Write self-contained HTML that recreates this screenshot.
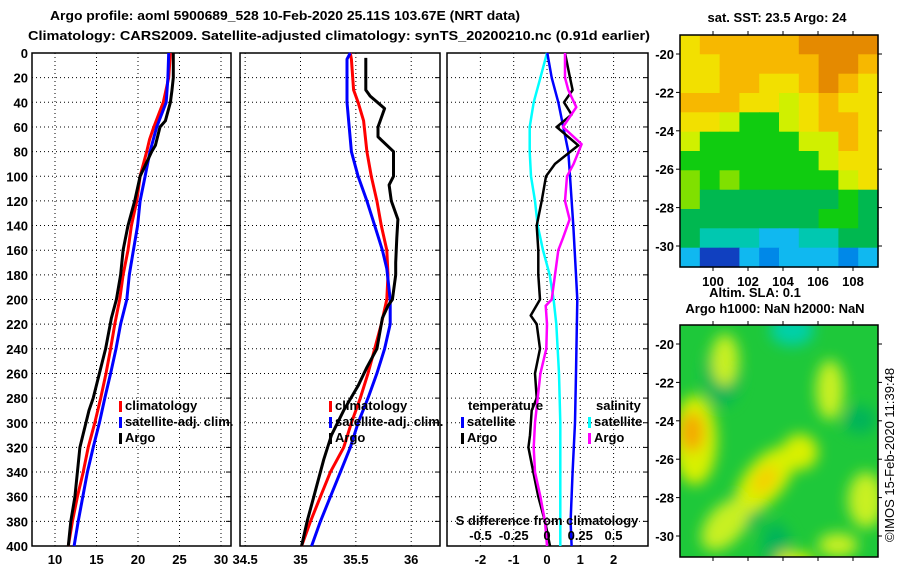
<!DOCTYPE html>
<html><head><meta charset="utf-8">
<style>
html,body{margin:0;padding:0;background:#fff;}
body{width:900px;height:580px;overflow:hidden;font-family:"Liberation Sans",sans-serif;}
svg text{font-family:"Liberation Sans",sans-serif;font-weight:bold;font-size:13px;fill:#000;}
</style></head>
<body>
<svg id="chart" width="900" height="580" viewBox="0 0 900 580" xmlns="http://www.w3.org/2000/svg">
<text x="50" y="20" font-size="15" textLength="470" lengthAdjust="spacingAndGlyphs">Argo profile: aoml 5900689_528 10-Feb-2020 25.11S 103.67E (NRT data)</text>
<text x="28" y="40" font-size="15" textLength="622" lengthAdjust="spacingAndGlyphs">Climatology: CARS2009. Satellite-adjusted climatology: synTS_20200210.nc (0.91d earlier)</text>
<g id="p1"></g>
<g id="p2"></g>
<g id="p3"></g>
<g id="m1"></g>
<g id="m2"></g>
<text x="777" y="22" text-anchor="middle">sat. SST: 23.5 Argo: 24</text>
<text x="755" y="297" text-anchor="middle">Altim. SLA: 0.1</text>
<text x="775" y="313" text-anchor="middle">Argo h1000: NaN h2000: NaN</text>
<text x="0" y="0" transform="translate(894,455) rotate(-90)" text-anchor="middle" style="font-weight:normal">©IMOS 15-Feb-2020 11:39:48</text>
</svg>
<script>
// ---- data ----
const depthTicks=[0,20,40,60,80,100,120,140,160,180,200,220,240,260,280,300,320,340,360,380,400];
const tTicks=[10,15,20,25,30];
const sTicks=[34.5,35,35.5,36];
const dTicks=[-2,-1,0,1,2];
const dsTickLabels=["-0.5","-0.25","0","0.25","0.5"];
const dsTickValues=[-0.5,-0.25,0,0.25,0.5];

const tArgoDepth=[0,20,30,40,55,60,75,80,100,120,140,160,180,200,215,240,260,280,290,320,340,360,380,400];
const tArgo=[24.25,24.25,24.1,23.9,23.3,22.65,22.1,21.65,20.25,19.6,18.8,18.2,17.9,17.4,16.8,16.1,15.35,14.6,14.1,13.0,12.7,12.4,11.9,11.6];
const tClimDepth=[0,20,40,60,70,80,100,120,140,160,180,200,220,240,260,280,300,320,340,360,380,400];
const tClim=[23.9,23.7,23.05,21.9,21.4,21.05,20.25,19.85,19.2,18.8,18.2,17.8,17.2,16.7,16.15,15.5,14.8,14.0,13.4,12.7,12.1,11.6];
const tSatDepth=[0,20,40,60,80,100,120,140,160,180,200,220,240,260,280,300,320,340,360,380,400];
const tSat=[23.7,23.6,23.4,22.25,21.45,20.85,20.25,19.95,19.45,18.95,18.65,17.9,17.35,16.7,16.0,15.35,14.6,13.9,13.35,12.8,12.3];

const sArgoDepth=[4,30,35,45,60,68,80,100,107,120,135,150,170,180,200,205,215,240,255,270,290,310,330,360,380,400];
const sArgo=[35.59,35.59,35.63,35.76,35.70,35.70,35.84,35.84,35.80,35.82,35.88,35.87,35.86,35.86,35.83,35.79,35.74,35.69,35.60,35.52,35.39,35.28,35.21,35.12,35.06,35.01];
const sClimDepth=[0,5,30,40,55,80,100,120,140,160,180,200,220,240,260,280,300,320,340,360,380,400];
const sClim=[35.45,35.46,35.48,35.52,35.57,35.60,35.64,35.69,35.73,35.78,35.79,35.78,35.73,35.67,35.61,35.54,35.46,35.39,35.27,35.18,35.09,35.01];
const sSatDepth=[0,5,20,40,60,80,100,120,140,160,175,200,220,240,260,280,300,320,340,360,380,400];
const sSat=[35.45,35.42,35.42,35.42,35.44,35.46,35.52,35.60,35.67,35.74,35.78,35.81,35.81,35.76,35.69,35.61,35.52,35.45,35.36,35.27,35.18,35.10];

const dTArgoDepth=[0,20,30,40,50,60,75,90,100,120,140,160,180,200,213,220,240,260,280,290,310,320,340,360,380,400];
const dTArgo=[0.54,0.69,0.77,0.51,0.74,0.29,0.94,0.24,-0.03,-0.16,-0.31,-0.26,-0.26,-0.21,-0.49,-0.31,-0.21,-0.36,-0.31,-0.46,-0.51,-0.56,-0.41,-0.26,-0.06,0.09];
const dTSatDepth=[0,20,40,60,80,100,140,180,200,260,300,340,380,400];
const dTSat=[0.01,0.14,0.34,0.49,0.64,0.69,0.79,0.87,0.91,0.87,0.84,0.77,0.71,0.74];
const dSSatDepth=[0,20,40,60,80,100,120,140,160,180,200,220,260,300,400];
const dSSat=[0.0,-0.05,-0.10,-0.13,-0.13,-0.12,-0.09,-0.07,-0.03,0.02,0.05,0.07,0.09,0.10,0.10];
const dSArgoDepth=[0,20,30,44,60,74,90,100,120,135,150,160,180,200,205,220,240,260,280,300,320,340,360,380,400];
const dSArgo=[0.135,0.135,0.16,0.22,0.12,0.26,0.20,0.15,0.135,0.17,0.12,0.085,0.06,0.035,-0.01,0.0,-0.005,-0.05,-0.07,-0.09,-0.10,-0.09,-0.05,-0.015,0.0];

const latTicks=[-20,-22,-24,-26,-28,-30];
const lonTicks=[100,102,104,106,108];
const sstGrid=["YoooooOOOO","YYoooooOOo","YYooYYoOoY","oooYYyYoYY","YYyGGyYooY","yGGGGGyyoY","GGGGGGGyYY","gGgGGGGGyY","gtttttttGt","tttttttGGt","tcccbbcctt","bNNbBbbbBb"];

// ---- helpers ----
const NS="http://www.w3.org/2000/svg";
function mk(parent,tag,attrs){const e=document.createElementNS(NS,tag);for(const k in attrs)e.setAttribute(k,attrs[k]);parent.appendChild(e);return e;}
const Y0=53,Y1=546;
function yD(d){return Y0+d*(Y1-Y0)/400;}

function panel(g,x0,x1,xScale,xt,xlabels,showY){
  depthTicks.forEach(d=>{const y=yD(d);
    const l=mk(g,'line',{x1:x0,x2:x1,y1:y,y2:y,stroke:'#000','stroke-width':1,'stroke-dasharray':'1,3'});
    
    
    if(showY){const t=mk(g,'text',{x:x0-4,y:y+5,'text-anchor':'end'});t.textContent=d;
      
      }
    mk(g,'line',{x1:x1-5,x2:x1,y1:y,y2:y,stroke:'#000','stroke-width':1});
  });
  xt.forEach((v,i)=>{const x=xScale(v);
    const l=mk(g,'line',{x1:x,x2:x,y1:Y0,y2:Y1,stroke:'#000','stroke-width':1,'stroke-dasharray':'1,3'});
    
    
    const t=mk(g,'text',{x:x,y:564,'text-anchor':'middle'});t.textContent=xlabels[i];
    
    
  });
  const r=mk(g,'rect',{x:x0,y:Y0,width:x1-x0,height:Y1-Y0,fill:'none',stroke:'#000','stroke-width':1.5});
  
  
}
function series(g,depths,vals,xScale,color,w,name){
  const pts=depths.map((d,i)=>xScale(vals[i]).toFixed(1)+','+yD(d).toFixed(1)).join(' ');
  const p=mk(g,'polyline',{points:pts,fill:'none',stroke:color,'stroke-width':w,'stroke-linejoin':'round'});
  
  
}
function legend(g,x,y,color,label,name){
  mk(g,'rect',{x:x,y:y-9,width:3,height:11,fill:color});
  const t=mk(g,'text',{x:x+6,y:y});t.textContent=label;
  
  
}

// Panel 1: temperature
const p1=document.getElementById('p1');
const xT=v=>55+(v-10)*8.3;
panel(p1,32,231,xT,tTicks,tTicks.map(String),true);
series(p1,tClimDepth,tClim,xT,'#ff0000',3,'temperature-climatology-line');
series(p1,tSatDepth,tSat,xT,'#0000ff',3,'temperature-satellite-line');
series(p1,tArgoDepth,tArgo,xT,'#000000',3,'temperature-argo-line');
legend(p1,119,410,'#f00','climatology','legend-climatology');
legend(p1,119,426,'#00f','satellite-adj. clim.','legend-satellite');
legend(p1,119,442,'#000','Argo','legend-argo');

// Panel 2: salinity
const p2=document.getElementById('p2');
const xS=v=>300.5+(v-35)*110.7;
panel(p2,240,440,xS,sTicks,sTicks.map(String),false);
series(p2,sClimDepth,sClim,xS,'#ff0000',3,'salinity-climatology-line');
series(p2,sSatDepth,sSat,xS,'#0000ff',3,'salinity-satellite-line');
series(p2,sArgoDepth,sArgo,xS,'#000000',3,'salinity-argo-line');
legend(p2,329,410,'#f00','climatology','legend-climatology');
legend(p2,329,426,'#00f','satellite-adj. clim.','legend-satellite');
legend(p2,329,442,'#000','Argo','legend-argo');

// Panel 3: differences
const p3=document.getElementById('p3');
const xDT=v=>547+v*33.3;
const xDS=v=>547+v*133;
panel(p3,447,648,xDT,dTicks,dTicks.map(String),false);
series(p3,dSSatDepth,dSSat,xDS,'#00ffff',2.5,'salinity-diff-satellite-line');
series(p3,dTSatDepth,dTSat,xDT,'#0000ff',2.5,'temperature-diff-satellite-line');
series(p3,dTArgoDepth,dTArgo,xDT,'#000000',2.5,'temperature-diff-argo-line');
series(p3,dSArgoDepth,dSArgo,xDS,'#ff00ff',2.5,'salinity-diff-argo-line');
(function(){const t=mk(p3,'text',{x:468,y:410});t.textContent='temperature';

const s=mk(p3,'text',{x:596,y:410});s.textContent='salinity';
})();
legend(p3,461,426,'#00f','satellite','legend-temp-satellite');
legend(p3,461,442,'#000','Argo','legend-temp-argo');
legend(p3,588,426,'#0ff','satellite','legend-sal-satellite');
legend(p3,588,442,'#f0f','Argo','legend-sal-argo');
(function(){const t=mk(p3,'text',{x:547,y:525,'text-anchor':'middle'});t.textContent='S difference from climatology';

dsTickValues.forEach((v,i)=>{const l=mk(p3,'text',{x:xDS(v),y:540,'text-anchor':'middle'});l.textContent=dsTickLabels[i];
});})();

// Maps
const lonX=v=>713+(v-100)*17.5;
function mapAxes(g,top,labelsX){
  const latY=v=>top+19+(-20-v)*19.2;
  latTicks.forEach(v=>{const y=latY(v);
    mk(g,'line',{x1:676,x2:680,y1:y,y2:y,stroke:'#000'});
    mk(g,'line',{x1:878,x2:882,y1:y,y2:y,stroke:'#000'});
    const t=mk(g,'text',{x:674,y:y+5,'text-anchor':'end'});t.textContent=v;
    });
  lonTicks.forEach(v=>{const x=lonX(v);
    mk(g,'line',{x1:x,x2:x,y1:top-4,y2:top,stroke:'#000'});
    mk(g,'line',{x1:x,x2:x,y1:top+232,y2:top+236,stroke:'#000'});
    if(labelsX){const t=mk(g,'text',{x:x,y:top+251,'text-anchor':'middle'});t.textContent=v;
      }});
  const r=mk(g,'rect',{x:680,y:top,width:198,height:232,fill:'none',stroke:'#000','stroke-width':1.5});
  
}
const pal={O:'#e58a00',o:'#f7b800',Y:'#f2e000',y:'#d0f000',g:'#80e000',G:'#10cc10',t:'#00b850',c:'#00c8b0',b:'#10b8f0',B:'#0088e8',N:'#1040c0'};
const m1=document.getElementById('m1');
const cw=198/10,ch=232/12;
sstGrid.forEach((row,r)=>{[...row].forEach((c,k)=>{
  const cell=mk(m1,'rect',{x:(680+k*cw).toFixed(1),y:(35+r*ch).toFixed(1),width:cw+0.6,height:ch+0.6,fill:pal[c]});
  
  
});});
mapAxes(m1,35,true);

const m2=document.getElementById('m2');
const defs=mk(m2,'defs',{});
const f=mk(defs,'filter',{id:'blur',x:'-50%',y:'-50%',width:'200%',height:'200%'});
mk(f,'feGaussianBlur',{stdDeviation:7});
const cp=mk(defs,'clipPath',{id:'mclip'});mk(cp,'rect',{x:680,y:325,width:198,height:232});
const bg=mk(m2,'rect',{x:680,y:325,width:198,height:232,fill:'#1ec83a'});

const blobs=mk(m2,'g',{'clip-path':'url(#mclip)'});
const bf=mk(blobs,'g',{filter:'url(#blur)'});
[[722,375,18,30,'#00b45a'],[745,510,18,20,'#00b45a'],[776,545,14,22,'#00b45a'],[860,420,16,14,'#00b45a'],[792,330,22,16,'#00d0a8'],
 [725,360,14,26,'#c8f020'],[830,390,14,30,'#c8f020'],[866,500,18,28,'#c8f020'],[838,545,20,12,'#c8f020'],[795,560,20,8,'#e8f000'],
 [695,440,22,45,'#d8f000'],[692,432,12,20,'#f5a800'],
 [765,480,20,40,'#d8f000'],[725,525,18,30,'#c8f020'],[800,452,18,18,'#d8f000'],[765,480,10,16,'#f5d000']
].forEach(b=>{const e=mk(bf,'ellipse',{cx:b[0],cy:b[1],rx:b[2],ry:b[3],fill:b[4]});
  if(b[0]===765||b[0]===725&&b[1]===525){e.setAttribute('transform','rotate(40 '+b[0]+' '+b[1]+')');}
  });
mapAxes(m2,325,false);
</script>
</body></html>
